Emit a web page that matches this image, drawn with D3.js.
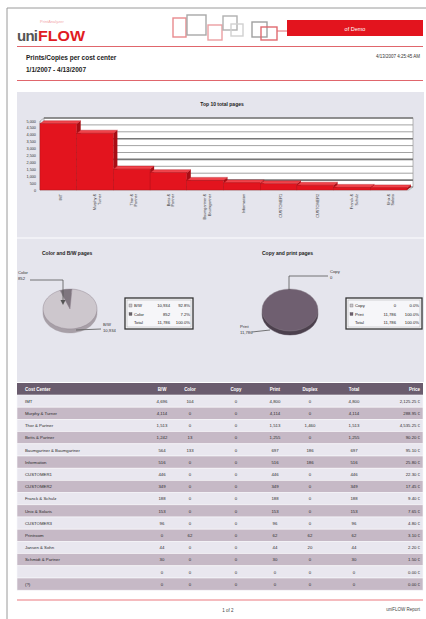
<!DOCTYPE html>
<html><head><meta charset="utf-8">
<script src="https://cdn.jsdelivr.net/npm/d3@7"></script>
<style>html,body{margin:0;padding:0;background:#fff;}svg{display:block;font-family:"Liberation Sans",Arial,sans-serif;}</style>
</head><body>
<script>
// ---------- DATA ----------
const reportTitle = "Prints/Copies per cost center";
const reportPeriod = "1/1/2007 - 4/13/2007";
const reportTimestamp = "4/13/2007 4:25:45 AM";
const headerBoxText = "of Demo";
const barTitle = "Top 10 total pages";
const barCategories = ["IMT", "Murphy & Turner", "Thor & Partner", "Betts & Partner", "Baumgartner & Baumgartner", "Information", "CUSTOMER1", "CUSTOMER2", "Franck & Schulz", "Unix & Solaris"];
const barValues = [4800, 4114, 1513, 1255, 697, 516, 446, 349, 188, 153];
const yTicks = [0, 500, 1000, 1500, 2000, 2500, 3000, 3500, 4000, 4500, 5000];

const pie1Title = "Color and B/W pages";
const pie1Labels = ["Color", "B/W"];
const pie1Values = [852, 10934];
const pie1Legend = [["B/W", "10,934", "92.8%"], ["Color", "852", "7.2%"], ["Total", "11,786", "100.0%"]];
const pie2Title = "Copy and print pages";
const pie2Labels = ["Copy", "Print"];
const pie2Values = [0, 11786];
const pie2Legend = [["Copy", "0", "0.0%"], ["Print", "11,786", "100.0%"], ["Total", "11,786", "100.0%"]];

const tableHeaders = ["Cost Center", "B/W", "Color", "Copy", "Print", "Duplex", "Total", "Price"];
const costCenters = ["IMT", "Murphy & Turner", "Thor & Partner", "Betts & Partner", "Baumgartner & Baumgartner", "Information", "CUSTOMER1", "CUSTOMER2", "Franck & Schulz", "Unix & Solaris", "CUSTOMER3", "Printroom", "Jansen & Sohn", "Schmidt & Partner", "", "(?)"];
const bwPages     = [4696, 4114, 1513, 1242, 564, 516, 446, 349, 188, 153, 96, 0, 44, 30, 0, 0];
const colorPages  = [104, 0, 0, 13, 133, 0, 0, 0, 0, 0, 0, 62, 0, 0, 0, 0];
const copyPages   = [0, 0, 0, 0, 0, 0, 0, 0, 0, 0, 0, 0, 0, 0, 0, 0];
const printPages  = [4800, 4114, 1513, 1255, 697, 516, 446, 349, 188, 153, 96, 62, 44, 30, 0, 0];
const duplexPages = [0, 0, 1460, 0, 186, 186, 0, 0, 0, 0, 0, 62, 20, 0, 0, 0];
const totalPages  = [4800, 4114, 1513, 1255, 697, 516, 446, 349, 188, 153, 96, 62, 44, 30, 0, 0];
const prices      = ["2,125.25 €", "288.95 €", "4,535.25 €", "90.20 €", "95.10 €", "25.80 €", "22.30 €", "17.45 €", "9.40 €", "7.65 €", "4.80 €", "3.10 €", "2.20 €", "1.50 €", "0.00 €", "0.00 €"];
const pageFooter = "1 of 2";
const footerRight = "uniFLOW Report";

// ---------- DRAW ----------
const W = 426, H = 619;
const svg = d3.select("body").append("svg").attr("width", W).attr("height", H);
const fmt = d3.format(",");

// page border
svg.append("line").attr("x1", 7).attr("y1", 8).attr("x2", W).attr("y2", 8).attr("stroke", "#9a9a9a").attr("stroke-width", 1);
svg.append("line").attr("x1", 7).attr("y1", 8).attr("x2", 7).attr("y2", H).attr("stroke", "#9a9a9a").attr("stroke-width", 1);

// logo
svg.append("text").attr("x", 40).attr("y", 23).attr("font-size", 4).attr("fill", "#f2a8ac").text("PrintAnalyzer");
svg.append("text").attr("x", 17).attr("y", 41).attr("font-size", 15).attr("font-weight", "bold").attr("fill", "#555").attr("textLength", 21).text("uni");
svg.append("text").attr("x", 38).attr("y", 41).attr("font-size", 15).attr("font-weight", "bold").attr("fill", "#e11b22").attr("textLength", 47).attr("lengthAdjust", "spacingAndGlyphs").text("FLOW");

// decorative squares
const deco = [[173,18,13,19,"#e88a8e"],[187,15,19,20,"#a8a8a8"],[208,25,14,15,"#ec9ea2"],[223,16,14,14,"#b0b0b0"],[231,24,12,12,"#d0d0d0"],[252,22,15,15,"#a0a0a0"],[261,27,16,13,"#e06a70"]];
deco.forEach(d => svg.append("rect").attr("x", d[0]).attr("y", d[1]).attr("width", d[2]).attr("height", d[3]).attr("fill", "none").attr("stroke", d[4]).attr("stroke-width", 1.4));
svg.append("line").attr("x1", 277).attr("y1", 31).attr("x2", 287).attr("y2", 31).attr("stroke", "#e06a70").attr("stroke-width", 1);
svg.append("rect").attr("x", 287).attr("y", 20).attr("width", 136).attr("height", 16).attr("fill", "#e3141e");
svg.append("text").attr("x", 355).attr("y", 30.5).attr("font-size", 5.5).attr("fill", "#fff").attr("text-anchor", "middle").text(headerBoxText);

// header lines and texts
svg.append("line").attr("x1", 17).attr("y1", 46.5).attr("x2", 423).attr("y2", 46.5).attr("stroke", "#e0666c").attr("stroke-width", 1);
svg.append("text").attr("x", 26).attr("y", 60).attr("font-size", 6.5).attr("font-weight", "bold").attr("fill", "#222").text(reportTitle);
svg.append("text").attr("x", 26).attr("y", 72).attr("font-size", 6.5).attr("font-weight", "bold").attr("fill", "#222").text(reportPeriod);
svg.append("text").attr("x", 420).attr("y", 58).attr("font-size", 4.5).attr("fill", "#333").attr("text-anchor", "end").text(reportTimestamp);
svg.append("line").attr("x1", 17).attr("y1", 80.5).attr("x2", 423).attr("y2", 80.5).attr("stroke", "#e0666c").attr("stroke-width", 1);

// grey panel
svg.append("rect").attr("x", 17).attr("y", 92).attr("width", 407).attr("height", 290).attr("fill", "#e5e5ed");
svg.append("line").attr("x1", 17).attr("y1", 238).attr("x2", 424).attr("y2", 238).attr("stroke", "#f4f4f8").attr("stroke-width", 1.5);

// ---------- BAR CHART ----------
const px0 = 40, px1 = 413, dx = 4, dy = -3;
svg.append("text").attr("x", 222).attr("y", 106).attr("font-size", 5).attr("font-weight", "bold").attr("fill", "#222").attr("text-anchor", "middle").text(barTitle);
const y = d3.scaleLinear().domain([0, 5000]).range([190, 121]);
const x = d3.scaleBand().domain(barCategories).range([px0, px1 - dx - 2]).padding(0);
// back wall
svg.append("rect").attr("x", px0 + dx).attr("y", y(5000) + dy).attr("width", px1 - px0 - dx).attr("height", y(0) - y(5000)).attr("fill", "#fff").attr("stroke", "#888").attr("stroke-width", 0.6);
svg.append("path").attr("d", `M${px0},${y(0)}L${px0 + dx},${y(0) + dy}L${px1},${y(0) + dy}L${px1 - dx},${y(0)}Z`).attr("fill", "#ddd").attr("stroke", "#888").attr("stroke-width", 0.5);
yTicks.forEach((t, i) => {
  const yy = y(t) + dy;
  svg.append("line").attr("x1", px0 + dx).attr("x2", px1).attr("y1", yy).attr("y2", yy)
    .attr("stroke", i % 3 === 1 ? "#777" : "#999").attr("stroke-width", i % 3 === 1 ? 1.6 : 0.9);
  svg.append("line").attr("x1", px0).attr("x2", px0 + dx).attr("y1", y(t)).attr("y2", yy).attr("stroke", "#999").attr("stroke-width", 0.6);
  svg.append("text").attr("x", 36).attr("y", y(t) + 1.5).attr("font-size", 3.8).attr("fill", "#333").attr("text-anchor", "end").text(fmt(t));
});
svg.append("line").attr("x1", px0).attr("x2", px0).attr("y1", y(5000)).attr("y2", y(0)).attr("stroke", "#666").attr("stroke-width", 0.6);

barCategories.forEach((c, i) => {
  const v = barValues[i];
  const bx = x(c), bw = x.bandwidth(), by = y(v), b0 = y(0);
  const g = svg.append("g");
  g.append("path").attr("d", `M${bx + bw},${by}L${bx + bw + dx},${by + dy}L${bx + bw + dx},${b0 + dy}L${bx + bw},${b0}Z`).attr("fill", "#a80d14");
  g.append("path").attr("d", `M${bx},${by}L${bx + dx},${by + dy}L${bx + bw + dx},${by + dy}L${bx + bw},${by}Z`).attr("fill", "#f0444b").attr("stroke", "#b01018").attr("stroke-width", 0.4);
  g.append("rect").attr("x", bx).attr("y", by).attr("width", bw).attr("height", b0 - by).attr("fill", "#e3141e").attr("stroke", "#b01018").attr("stroke-width", 0.4);
  // x labels
  const words = c.includes("&") ? c.split(/ (?=&)|(?<=&) /) : [c];
  const lines = words.length === 3 ? [words[0] + " " + words[1], words[2]] : words;
  const cx = bx + bw / 2 + 2;
  lines.forEach((ln, j) => {
    const lx = cx + (j - (lines.length - 1) / 2) * 4.5;
    svg.append("text").attr("transform", `translate(${lx + 1.3},194) rotate(-90)`).attr("font-size", 3.8).attr("fill", "#333").attr("text-anchor", "end").text(ln);
  });
});

// ---------- PIES ----------
function drawPie(cfg) {
  const { cx, cy, rx, ry, thick, labels, values, colors, sides, start, title, tx } = cfg;
  svg.append("text").attr("x", tx).attr("y", 255).attr("font-size", 5).attr("font-weight", "bold").attr("fill", "#222").text(title);
  const pie = d3.pie().sort(null).startAngle(start).endAngle(start + 2 * Math.PI)(values);
  const arc = d3.arc().innerRadius(0).outerRadius(rx);
  // side
  const gs = svg.append("g").attr("transform", `translate(${cx},${cy + thick}) scale(1,${ry / rx})`);
  gs.selectAll("path").data(pie).join("path").attr("d", arc).attr("fill", (d, i) => sides[i]).attr("stroke", sides[1]).attr("stroke-width", 0.5);
  svg.append("rect").attr("x", cx - rx).attr("y", cy).attr("width", 2 * rx).attr("height", thick).attr("fill", sides[1]);
  const gt = svg.append("g").attr("transform", `translate(${cx},${cy}) scale(1,${ry / rx})`);
  gt.selectAll("path").data(pie).join("path").attr("d", arc).attr("fill", (d, i) => colors[i]).attr("stroke", "#8a808a").attr("stroke-width", 0.5);
  return pie;
}
const pie1 = drawPie({ cx: 70, cy: 309, rx: 27, ry: 20, thick: 4, labels: pie1Labels, values: pie1Values, colors: ["#7f767f", "#cdc7cd"], sides: ["#5e565e", "#a79fa7"], start: -0.38, title: pie1Title, tx: 42 });
const pie2 = drawPie({ cx: 290, cy: 310, rx: 28, ry: 21, thick: 4, labels: pie2Labels, values: pie2Values, colors: ["#cdc7cd", "#6f5f70"], sides: ["#a79fa7", "#4c404d"], start: 0, title: pie2Title, tx: 262 });

function lbl(x0, y0, lines, anchor) {
  lines.forEach((t, i) => svg.append("text").attr("x", x0).attr("y", y0 + i * 6).attr("font-size", 4.2).attr("fill", "#333").attr("text-anchor", anchor || "start").text(t));
}
function poly(pts) { svg.append("polyline").attr("points", pts.map(p => p.join(",")).join(" ")).attr("fill", "none").attr("stroke", "#555").attr("stroke-width", 0.8); }
// pie 1 callouts
poly([[30, 280], [63, 280], [63, 302]]);
svg.append("path").attr("d", "M60.5,300L65.5,300L63,305Z").attr("fill", "#555");
lbl(18, 274, [pie1Labels[0], fmt(pie1Values[0])]);
poly([[76, 330], [101, 329]]);
lbl(103, 326, [pie1Labels[1], fmt(pie1Values[1])]);
// pie 2 callouts
poly([[289, 290], [289, 276], [328, 276]]);
lbl(330, 273, [pie2Labels[0], fmt(pie2Values[0])]);
poly([[252, 332], [270, 330]]);
lbl(240, 328, [pie2Labels[1], fmt(pie2Values[1])]);

function legend(lx, ly, lw, rows, markers, cols) {
  svg.append("rect").attr("x", lx).attr("y", ly).attr("width", lw).attr("height", 31).attr("fill", "#f6f6f9").attr("stroke", "#333").attr("stroke-width", 1.3);
  svg.append("rect").attr("x", lx + 2).attr("y", ly + 2).attr("width", lw - 4).attr("height", 27).attr("fill", "none").attr("stroke", "#999").attr("stroke-width", 0.4);
  rows.forEach((r, i) => {
    const ry = ly + 9 + i * 8.5;
    if (markers[i]) svg.append("rect").attr("x", lx + 4).attr("y", ry - 3).attr("width", 3).attr("height", 3).attr("fill", markers[i]).attr("stroke", "#555").attr("stroke-width", 0.3);
    svg.append("text").attr("x", lx + 9).attr("y", ry).attr("font-size", 4.2).attr("fill", "#222").text(r[0]);
    svg.append("text").attr("x", lx + cols[0]).attr("y", ry).attr("font-size", 4.2).attr("fill", "#222").attr("text-anchor", "end").text(r[1]);
    svg.append("text").attr("x", lx + cols[1]).attr("y", ry).attr("font-size", 4.2).attr("fill", "#222").attr("text-anchor", "end").text(r[2]);
  });
}
legend(125, 298, 68, pie1Legend, ["#cdc7cd", "#6a626a", null], [45, 65]);
legend(346, 298, 76, pie2Legend, ["#cdc7cd", "#6f5f70", null], [50, 73]);

// ---------- TABLE ----------
const tx0 = 17, tx1 = 423, th0 = 383, thH = 12, rowH = 12.2;
const colX = [25, 162, 190, 236, 275, 310, 354, 420];
const colAnchor = ["start", "middle", "middle", "middle", "middle", "middle", "middle", "end"];
svg.append("rect").attr("x", tx0).attr("y", th0).attr("width", tx1 - tx0).attr("height", thH).attr("fill", "#6a5c6e");
tableHeaders.forEach((h, i) => svg.append("text").attr("x", colX[i]).attr("y", th0 + 8).attr("font-size", 4.5).attr("font-weight", "bold").attr("fill", "#fff").attr("text-anchor", colAnchor[i]).text(h));
costCenters.forEach((name, r) => {
  const ry0 = th0 + thH + r * rowH;
  svg.append("rect").attr("x", tx0).attr("y", ry0).attr("width", tx1 - tx0).attr("height", rowH).attr("fill", r % 2 === 0 ? "#e9e7ef" : "#c6b9c6").attr("stroke", "#f7f7fa").attr("stroke-width", 0.6);
  const vals = [name, fmt(bwPages[r]), fmt(colorPages[r]), fmt(copyPages[r]), fmt(printPages[r]), fmt(duplexPages[r]), fmt(totalPages[r]), prices[r]];
  vals.forEach((v, i) => svg.append("text").attr("x", colX[i]).attr("y", ry0 + 7.8).attr("font-size", 4.3).attr("fill", "#2a2a2a").attr("text-anchor", colAnchor[i]).text(v));
});

// ---------- FOOTER ----------
svg.append("line").attr("x1", 17).attr("y1", 600).attr("x2", 423).attr("y2", 600).attr("stroke", "#f2a4a8").attr("stroke-width", 1.6);
svg.append("text").attr("x", 228).attr("y", 612).attr("font-size", 4.5).attr("fill", "#444").attr("text-anchor", "middle").text(pageFooter);
svg.append("text").attr("x", 420).attr("y", 611).attr("font-size", 4.5).attr("fill", "#444").attr("text-anchor", "end").text(footerRight);
</script>
</body></html>
